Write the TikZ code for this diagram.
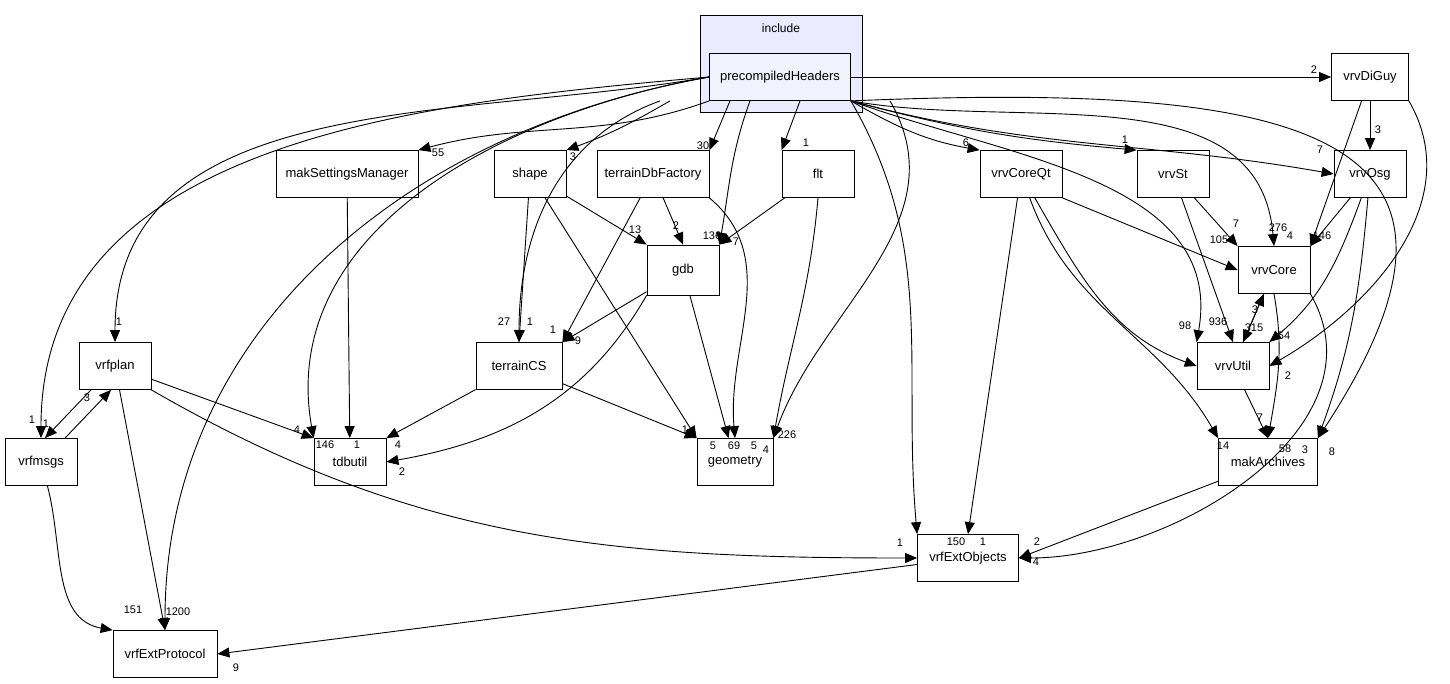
\documentclass[tikz,border=0pt]{standalone}
\usepackage{fontspec}
\setmainfont{Liberation Sans}
\usetikzlibrary{arrows.meta}
\begin{document}
\begin{tikzpicture}[x=0.5pt,y=-0.5pt,
  box/.style={draw,fill=white,minimum width=36pt,minimum height=23.5pt,font=\fontsize{6.5}{7}\selectfont,inner sep=2pt},
  e/.style={-{Triangle[length=6pt,width=5pt]},line width=0.45pt},
  l/.style={font=\fontsize{5.5}{6}\selectfont,inner sep=0pt}]
\useasboundingbox (0,0) rectangle (1450,684);
\node[draw,fill=blue!8!white,minimum width=81pt,minimum height=48.5pt] (inc) at (781,63.5) {};
\node[l,font=\fontsize{6}{7}\selectfont] (incl) at (781,28) {include};
\node[box,fill=blue!5!white,minimum width=70.5pt] (pH) at (780,77) {precompiledHeaders};
\node[box,minimum width=38.5pt] (diguy) at (1370,77) {vrvDiGuy};
\node[box,minimum width=71pt] (mak) at (347,174) {makSettingsManager};
\node[box] (shape) at (530,174) {shape};
\node[box,minimum width=56pt] (tdf) at (653,174) {terrainDbFactory};
\node[box] (flt) at (818,174) {flt};
\node[box,minimum width=41pt] (cqt) at (1021,174) {vrvCoreQt};
\node[box] (st) at (1173,174) {vrvSt};
\node[box] (osg) at (1370,174) {vrvOsg};
\node[box,minimum height=25pt] (gdb) at (683,270) {gdb};
\node[box] (core) at (1274,270) {vrvCore};
\node[box] (plan) at (115,366) {vrfplan};
\node[box,minimum width=43pt] (tcs) at (519,366) {terrainCS};
\node[box] (util) at (1233,366) {vrvUtil};
\node[box] (msgs) at (41,462) {vrfmsgs};
\node[box] (tdb) at (350,462) {tdbutil};
\node[box,minimum width=38pt] (geo) at (735,462) {geometry};
\node[box,minimum width=49.5pt] (arch) at (1268,462) {makArchives};
\node[box,minimum width=50.5pt] (eo) at (968,558) {vrfExtObjects};
\node[box,minimum width=52pt] (ep) at (165,654) {vrfExtProtocol};
% from precompiledHeaders
\draw[e] (pH) -- (diguy); \node[l] at (1314,70) {2};
\draw[e] (pH.south west) to[out=200,in=15] (mak.north east); \node[l] at (438,153) {55};
\draw[e] ([xshift=-55]pH.south) to[out=210,in=20] (shape.north east); \node[l] at (573,157) {3};
\draw[e] ([xshift=-25]pH.south) -- (tdf.north east); \node[l] at (703,146) {30};
\draw[e] ([xshift=10]pH.south) -- (flt.north west); \node[l] at (806,143) {1};
\draw[e] ([xshift=-15]pH.south) to[out=250,in=80] (gdb.north east); \node[l] at (712,236) {136};
\draw[e] ([xshift=-60]pH.south) to[out=200,in=90] (tcs.north); \node[l] at (504,322) {27};
\draw[e] ([xshift=55]pH.south) to[out=-60,in=70] (geo.north east); \node[l] at (787,435) {226};
\draw[e] (pH.south east) to[out=-30,in=170] (cqt.north west); \node[l] at (966,143) {6};
\draw[e] (pH.south east) to[out=-15,in=175] (st.north west); \node[l] at (1125,140) {1};
\draw[e] (pH.south east) to[out=-15,in=170] (osg.west); \node[l] at (1320,150) {7};
\draw[e] (pH.south east) to[out=-10,in=95] (core.north); \node[l] at (1278,228) {276};
\draw[e] (pH.south east) to[out=-20,in=80] (util.north west); \node[l] at (1218,322) {936};
\draw[e] (pH.south east) .. controls (1300,82) and (1520,130) .. (arch.north east); \node[l] at (1332,452) {8};
\draw[e] (pH.south east) to[out=-60,in=95] (eo.north west); \node[l] at (956,542) {150};
\draw[e] (pH.west) to[out=190,in=90] (ep.north); \node[l] at (178,612) {1200};
\draw[e] (pH.west) to[out=190,in=100] (tdb.north west); \node[l] at (325,445) {146};
\draw[e] (pH.west) to[out=190,in=90] (plan.north); \node[l] at (119,322) {1};
\draw[e] (pH.west) to[out=185,in=90] (msgs.north); \node[l] at (32,420) {1};
% others
\draw[e] (mak) -- (tdb); \node[l] at (357,445) {1};
\draw[e] (shape) -- (gdb.north west); \node[l] at (635,230) {13};
\draw[e] (shape) -- (tcs.north); \node[l] at (530,322) {1};
\draw[e] (shape) -- (geo.north west); \node[l] at (713,446) {5};
\draw[e] (tdf) -- (gdb.north); \node[l] at (676,226) {2};
\draw[e] (tdf) -- (tcs.north east); \node[l] at (553,330) {1};
\draw[e] (tdf.south east) to[out=-40,in=95] (geo.north); \node[l] at (754,446) {5};
\draw[e] (flt) -- (gdb.north east); \node[l] at (736,242) {7};
\draw[e] (flt.south) to[out=-95,in=80] (geo.north east); \node[l] at (766,450) {4};
\draw[e] (gdb) -- (tcs.north east); \node[l] at (578,341) {9};
\draw[e] (gdb.south west) to[out=-120,in=10] (tdb.east); \node[l] at (402,472) {2};
\draw[e] (gdb) -- (geo); \node[l] at (734,446) {69};
\draw[e] (tcs) -- (tdb.north east); \node[l] at (398,445) {4};
\draw[e] (tcs) -- (geo.north west); \node[l] at (685,430) {1};
\draw[e] (plan) -- (tdb.north west); \node[l] at (297,430) {4};
\draw[e] ([xshift=-12]plan.south) -- ([xshift=2]msgs.north); \node[l] at (46,424) {1};
\draw[e] ([xshift=12]msgs.north) -- ([xshift=-2]plan.south); \node[l] at (87,398) {3};
\draw[e] (plan.south east) to[out=-30,in=180] (eo.west); \node[l] at (900,543) {1};
\draw[e] (plan) -- (ep.north);
\draw[e] (msgs) to[out=-75,in=170] (ep.north west); \node[l] at (133,610) {151};
\draw[e] (eo) -- (ep.east); \node[l] at (236,668) {9};
\draw[e] (diguy) -- (osg); \node[l] at (1378,130) {3};
\draw[e] (diguy) -- (core.north east); \node[l] at (1290,236) {4};
\draw[e] (diguy.south east) to[out=-60,in=30] (util.east); \node[l] at (1288,376) {2};
\draw[e] (cqt.south east) -- (core.west); \node[l] at (1219,240) {105};
\draw[e] (cqt) to[out=-60,in=160] (util.west); \node[l] at (1185,326) {98};
\draw[e] (cqt) to[out=-70,in=120] (arch.north west); \node[l] at (1223,446) {14};
\draw[e] (cqt) -- (eo.north); \node[l] at (983,542) {1};
\draw[e] (st) -- (core.north west); \node[l] at (1236,224) {7};
\draw[e] (st) -- (util.north);
\draw[e] (osg) -- (core.north east); \node[l] at (1322,236) {146};
\draw[e] (osg) to[out=-110,in=40] (util.north east); \node[l] at (1284,336) {54};
\draw[e] (osg) to[out=-95,in=70] (arch.north east); \node[l] at (1305,450) {3};
\draw[e] (core) -- (util); \node[l] at (1254,328) {315};
\draw[e] (util) -- (core); \node[l] at (1255,310) {3};
\draw[e] (core.south) to[out=-80,in=80] (arch.north); \node[l] at (1285,449) {58};
\draw[e] (core.south east) to[out=-60,in=0] (eo.east); \node[l] at (1036,562) {4};
\draw[e] (util) -- (arch.north); \node[l] at (1260,418) {7};
\draw[e] (arch) -- (eo.east); \node[l] at (1037,542) {2};
\end{tikzpicture}
\end{document}
